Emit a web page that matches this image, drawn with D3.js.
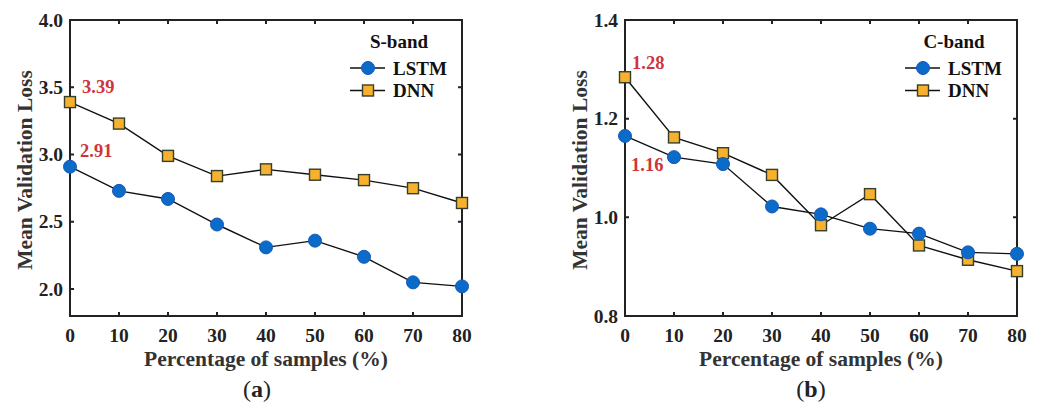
<!DOCTYPE html>
<meta charset="utf-8">
<html>
<head>
<title>Mean validation loss</title>
<style>
  body { margin: 0; background: #fff; }
</style>
</head>
<body>
<script src="https://cdnjs.cloudflare.com/ajax/libs/d3/7.8.5/d3.min.js"></script>
<script>
// x categories (percentage of samples)
var percents = [0, 10, 20, 30, 40, 50, 60, 70, 80];

// S-band values
var sLstm = [2.91, 2.73, 2.67, 2.48, 2.31, 2.36, 2.24, 2.05, 2.02];
var sDnn  = [3.39, 3.23, 2.99, 2.84, 2.89, 2.85, 2.81, 2.75, 2.64];
var sTicks = [2.0, 2.5, 3.0, 3.5, 4.0];

// C-band values
var cLstm = [1.165, 1.122, 1.108, 1.022, 1.006, 0.977, 0.967, 0.929, 0.926];
var cDnn  = [1.284, 1.162, 1.130, 1.086, 0.984, 1.047, 0.943, 0.914, 0.891];
var cTicks = [0.8, 1.0, 1.2, 1.4];

var svg = d3.select("body").append("svg")
    .attr("width", 1038)
    .attr("height", 403)
    .attr("font-family", "'Liberation Serif', 'Times New Roman', 'DejaVu Serif', serif")
    .attr("font-weight", "bold");

// one panel
function drawPanel(opt) {
    var left = opt.left, right = opt.left + 392, top = 20, bottom = 316;
    var x = d3.scaleLinear().domain([0, 80]).range([left, right]);
    var y = d3.scaleLinear().domain(opt.domain).range([bottom, top]);
    var g = svg.append("g");

    // frame
    g.append("rect")
        .attr("x", left).attr("y", top)
        .attr("width", right - left).attr("height", bottom - top)
        .attr("fill", "none").attr("stroke", "#222").attr("stroke-width", 2);

    // ticks pointing inward on all 4 sides
    var tl = 4;
    g.selectAll(".xt").data(percents).enter().append("path")
        .attr("d", function (d) { return "M" + x(d) + "," + bottom + "v" + (-tl) + "M" + x(d) + "," + top + "v" + tl; })
        .attr("stroke", "#222").attr("stroke-width", 2);
    g.selectAll(".yt").data(opt.ticks).enter().append("path")
        .attr("d", function (d) { return "M" + left + "," + y(d) + "h" + tl + "M" + right + "," + y(d) + "h" + (-tl); })
        .attr("stroke", "#222").attr("stroke-width", 2);

    // tick labels
    g.selectAll(".xl").data(percents).enter().append("text")
        .attr("x", function (d) { return x(d); })
        .attr("y", bottom + 25.5)
        .attr("text-anchor", "middle")
        .attr("font-size", 19.5).attr("fill", "#222")
        .text(function (d) { return d; });
    g.selectAll(".yl").data(opt.ticks).enter().append("text")
        .attr("x", left - 7)
        .attr("y", function (d) { return y(d) + 6.5; })
        .attr("text-anchor", "end")
        .attr("font-size", 19.5).attr("fill", "#222")
        .text(function (d) { return d.toFixed(1); });

    // axis titles
    g.append("text")
        .attr("x", (left + right) / 2).attr("y", 365.5)
        .attr("text-anchor", "middle").attr("font-size", 21.5).attr("fill", "#333")
        .text("Percentage of samples (%)");
    g.append("text")
        .attr("transform", "translate(" + (left - 38) + "," + ((top + bottom) / 2 + 2) + ") rotate(-90)")
        .attr("text-anchor", "middle").attr("font-size", 21.5).attr("fill", "#333")
        .text("Mean Validation Loss");

    // sub caption
    var cap = g.append("text")
        .attr("x", opt.capX).attr("y", 397)
        .attr("text-anchor", "middle").attr("font-size", 24).attr("fill", "#222");
    cap.append("tspan").attr("font-weight", "normal").text("(");
    cap.append("tspan").text(opt.cap);
    cap.append("tspan").attr("font-weight", "normal").text(")");

    var line = d3.line().x(function (d, i) { return x(percents[i]); }).y(function (d) { return y(d); });

    // lines
    [opt.lstm, opt.dnn].forEach(function (s) {
        g.append("path").datum(s).attr("d", line)
            .attr("fill", "none").attr("stroke", "#111").attr("stroke-width", 1.4);
    });

    // DNN squares
    g.selectAll(".sq").data(opt.dnn).enter().append("rect")
        .attr("x", function (d, i) { return x(percents[i]) - 5.5; })
        .attr("y", function (d) { return y(d) - 5.5; })
        .attr("width", 11).attr("height", 11)
        .attr("fill", "#f7b12e").attr("stroke", "#34402a").attr("stroke-width", 1.4);

    // LSTM circles
    g.selectAll(".ci").data(opt.lstm).enter().append("circle")
        .attr("cx", function (d, i) { return x(percents[i]); })
        .attr("cy", function (d) { return y(d); })
        .attr("r", 6.5)
        .attr("fill", "#0a6bc8").attr("stroke", "#1658b8").attr("stroke-width", 1);

    // red value labels
    opt.notes.forEach(function (n) {
        g.append("text").attr("x", n.x).attr("y", n.y)
            .attr("font-size", 18.5).attr("fill", "#d0343a").text(n.t);
    });

    // legend
    var lx = opt.legX;
    g.append("text").attr("x", lx + 31).attr("y", 48)
        .attr("text-anchor", "middle").attr("font-size", 19).attr("fill", "#111").text(opt.band);
    var rows = [{ t: "LSTM", y: 68, c: true }, { t: "DNN", y: 90.5, c: false }];
    rows.forEach(function (r) {
        g.append("path").attr("d", "M" + (lx - 18) + "," + r.y + "h35")
            .attr("stroke", "#111").attr("stroke-width", 1.4);
        if (r.c) {
            g.append("circle").attr("cx", lx).attr("cy", r.y).attr("r", 6.5)
                .attr("fill", "#0a6bc8").attr("stroke", "#1658b8");
        } else {
            g.append("rect").attr("x", lx - 5.5).attr("y", r.y - 5.5)
                .attr("width", 11).attr("height", 11)
                .attr("fill", "#f7b12e").attr("stroke", "#34402a").attr("stroke-width", 1.4);
        }
        g.append("text").attr("x", lx + 25).attr("y", r.y + 6.5)
            .attr("font-size", 19).attr("fill", "#111").text(r.t);
    });
}

drawPanel({
    left: 70, domain: [1.8, 4.0], ticks: sTicks,
    lstm: sLstm, dnn: sDnn, band: "S-band", legX: 368, cap: "a", capX: 257,
    notes: [{ t: "3.39", x: 82, y: 93 }, { t: "2.91", x: 80, y: 157 }]
});

drawPanel({
    left: 625, domain: [0.8, 1.4], ticks: cTicks,
    lstm: cLstm, dnn: cDnn, band: "C-band", legX: 923, cap: "b", capX: 811,
    notes: [{ t: "1.28", x: 632, y: 69 }, { t: "1.16", x: 631, y: 171 }]
});
</script>
</body>
</html>
